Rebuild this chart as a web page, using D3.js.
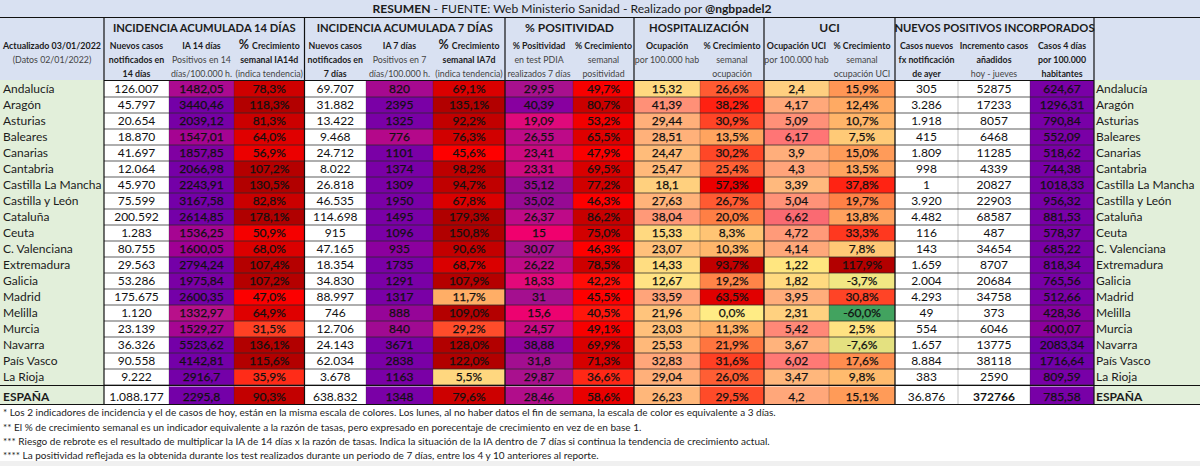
<!DOCTYPE html>
<html>
<head>
<meta charset="utf-8">
<title>Resumen</title>
<script src="https://cdn.jsdelivr.net/npm/d3@7"></script>
<style>
	html, body { margin: 0; padding: 0; background: #f0f0f0; overflow: hidden; }
	text { font-family: Lato, "Open Sans", sans-serif; fill: #1c1c1c; }
</style>
</head>
<body>
<div id="vis"></div>
<script>
// values, last entry is always ESPAÑA
const regions = ["Andalucía", "Aragón", "Asturias", "Baleares", "Canarias", "Cantabria", "Castilla La Mancha", "Castilla y León", "Cataluña", "Ceuta", "C. Valenciana", "Extremadura", "Galicia", "Madrid", "Melilla", "Murcia", "Navarra", "País Vasco", "La Rioja", "ESPAÑA"];
const casos14 = [126007, 45797, 20654, 18870, 41697, 12064, 45970, 75599, 200592, 1283, 80755, 29563, 53286, 175675, 1120, 23139, 36326, 90558, 9222, 1088177];
const ia14 = [1482.05, 3440.46, 2039.12, 1547.01, 1857.85, 2066.98, 2243.91, 3167.58, 2614.85, 1536.25, 1600.05, 2794.24, 1975.84, 2600.35, 1332.97, 1529.27, 5523.62, 4142.81, 2916.7, 2295.8];
const crec14 = [78.3, 118.3, 81.3, 64.0, 56.9, 107.2, 130.5, 82.8, 178.1, 50.9, 68.0, 107.4, 107.2, 47.0, 64.9, 31.5, 136.1, 115.6, 35.9, 90.3];
const casos7 = [69707, 31882, 13422, 9468, 24712, 8022, 26818, 46535, 114698, 915, 47165, 18354, 34830, 88997, 746, 12706, 24143, 62034, 3678, 638832];
const ia7 = [820, 2395, 1325, 776, 1101, 1374, 1309, 1950, 1495, 1096, 935, 1735, 1291, 1317, 888, 840, 3671, 2838, 1163, 1348];
const crec7 = [69.1, 135.1, 92.2, 76.3, 45.6, 98.2, 94.7, 67.8, 179.3, 150.8, 90.6, 68.7, 107.9, 11.7, 109.0, 29.2, 128.0, 122.0, 5.5, 79.6];
const positividad = [29.95, 40.39, 19.09, 26.55, 23.41, 23.31, 35.12, 35.02, 26.37, 15, 30.07, 26.22, 18.33, 31, 15.6, 24.57, 38.88, 31.8, 29.87, 28.46];
const crecPositividad = [49.7, 80.7, 53.2, 65.5, 47.9, 69.5, 77.2, 46.3, 86.2, 75.0, 46.3, 78.5, 42.2, 45.5, 40.5, 49.1, 69.9, 71.3, 36.6, 58.6];
const ocupacion = [15.32, 41.39, 29.44, 28.51, 24.47, 25.47, 18.1, 27.63, 38.04, 15.33, 23.07, 14.33, 12.67, 33.59, 21.96, 23.03, 25.53, 32.83, 29.04, 26.23];
const crecOcupacion = [26.6, 38.2, 30.9, 13.5, 30.2, 25.4, 57.3, 26.7, 20.0, 8.3, 10.3, 93.7, 19.2, 63.5, 0.0, 11.3, 21.9, 31.6, 26.0, 29.5];
const ocupacionUci = [2.4, 4.17, 5.09, 6.17, 3.9, 4.3, 3.39, 5.04, 6.62, 4.72, 4.14, 1.22, 1.82, 3.95, 2.31, 5.42, 3.67, 6.02, 3.47, 4.2];
const crecUci = [15.9, 12.4, 10.7, 7.5, 15.0, 13.5, 37.8, 19.7, 13.8, 33.3, 7.8, 117.9, -3.7, 30.8, -60.0, 2.5, -7.6, 17.6, 9.8, 15.1];
const casosAyer = [305, 3286, 1918, 415, 1809, 998, 1, 3920, 4482, 116, 143, 1659, 2004, 4293, 49, 554, 1657, 8884, 383, 36876];
const incremento = [52875, 17233, 8057, 6468, 11285, 4339, 20827, 22903, 68587, 487, 34654, 8707, 20684, 34758, 373, 6046, 13775, 38118, 2590, 372766];
const casos4 = [624.67, 1296.31, 790.84, 552.09, 518.62, 744.38, 1018.33, 956.32, 881.53, 578.37, 685.22, 818.34, 765.56, 512.66, 428.36, 400.07, 2083.34, 1716.64, 809.59, 785.58];

const groupLabels = ["INCIDENCIA ACUMULADA 14 DÍAS", "INCIDENCIA ACUMULADA 7 DÍAS", "% POSITIVIDAD", "HOSPITALIZACIÓN", "UCI", "NUEVOS POSITIVOS INCORPORADOS"];
const columnTitles = [
	["*Nuevos casos", "*notificados en", "*14 días"],
	["*IA 14 días", "Positivos en 14", "días/100.000 h."],
	["%*Crecimiento", "*semanal IA14d", "(indica tendencia)"],
	["*Nuevos casos", "*notificados en", "*7 días"],
	["*IA 7 días", "Positivos en 7", "días/100.000 h."],
	["%*Crecimiento", "*semanal IA7d", "(indica tendencia)"],
	["*% Positividad", "en test PDIA", "realizados 7 días"],
	["*% Crecimiento", "semanal", "positividad"],
	["*Ocupación", "por 100.000 hab", ""],
	["*% Crecimiento", "semanal", "ocupación"],
	["*Ocupación UCI", "por 100.000 hab", ""],
	["*% Crecimiento", "semanal", "ocupación UCI"],
	["*Casos nuevos", "*fx notificación", "*de ayer"],
	["*Incremento casos", "*añadidos", "hoy - jueves"],
	["*Casos 4 días", "*por 100.000", "*habitantes"],
];
const footnotes = [
	"* Los 2 indicadores de incidencia y el de casos de hoy, están en la misma escala de colores. Los lunes, al no haber datos el fin de semana, la escala de color es equivalente a 3 días.",
	"** El % de crecimiento semanal es un indicador equivalente a la razón de tasas, pero expresado en porecentaje de crecimiento en vez de en base 1.",
	"*** Riesgo de rebrote es el resultado de multiplicar la IA de 14 días x la razón de tasas. Indica la situación de la IA dentro de 7 días si continua la tendencia de crecimiento actual.",
	"**** La positividad reflejada es la obtenida durante los test realizados durante un periodo de 7 días, entre los 4 y 10 anteriores al reporte.",
];

const main = () => {
	draw();
};

const draw = () => {
	const VISUAL_W = 1200;
	const VISUAL_H = 466;
	const svg = d3.select("#vis").append("svg")
		.attr("width", VISUAL_W)
		.attr("height", VISUAL_H)
		.style("display", "block");

	const es = d3.formatLocale({ decimal: ",", thousands: ".", grouping: [3], currency: ["", ""] });
	const fmtMiles = es.format(",d");
	const fmtPct = (v) => v.toFixed(1).replace(".", ",") + "%";
	const fmtDec = (v) => String(v).replace(".", ",");
	const fmtInt = (v) => String(v);

	// colour scales, picked by eye from the excel conditional formats
	const growth = d3.scaleLinear()
		.domain([-60, -7.6, 0, 5.5, 11.7, 20, 30, 45, 64, 80, 110, 180])
		.range(["#42a35f", "#e4e180", "#ffec85", "#ffd77f", "#ffae66", "#ff7f45", "#ff4828", "#ff0000", "#e00000", "#cc0000", "#b30000", "#b00000"])
		.clamp(true);
	const incid = d3.scaleLinear()
		.domain([1330, 1480, 1600, 1860, 2100])
		.range(["#b8108a", "#ab0a90", "#a00094", "#8000a2", "#7400a8"])
		.clamp(true);
	const incid7 = d3.scaleLinear()
		.domain([776, 840, 935, 1100])
		.range(["#b4088a", "#a00a92", "#8c009e", "#7a00a6"])
		.clamp(true);
	const incid4 = d3.scaleLinear()
		.domain([400, 510, 2000])
		.range(["#8a009c", "#7a00a6", "#7000aa"])
		.clamp(true);
	const posit = d3.scaleLinear()
		.domain([15, 18.3, 23.3, 26.5, 30, 35, 40.4])
		.range(["#f0006e", "#e2097a", "#cc0a80", "#bd0a88", "#a8108e", "#960a94", "#8800a0"]);
	const hosp = d3.scaleLinear()
		.domain([12.67, 15.3, 25, 33, 41.4])
		.range(["#ffe384", "#ffd980", "#ffba7a", "#ffa67a", "#ff9077"]);
	const uci = d3.scaleLinear()
		.domain([1.22, 2.4, 4.2, 5.1, 6.17, 6.62])
		.range(["#ffe680", "#ffcf80", "#ffa77a", "#ff9078", "#ff7575", "#fa6a72"]);
	const white = () => "#ffffff";

	const columns = [
		{ values: casos14, fmt: fmtMiles, color: white },
		{ values: ia14, fmt: fmtDec, color: incid },
		{ values: crec14, fmt: fmtPct, color: growth },
		{ values: casos7, fmt: fmtMiles, color: white },
		{ values: ia7, fmt: fmtInt, color: incid7 },
		{ values: crec7, fmt: fmtPct, color: growth },
		{ values: positividad, fmt: fmtDec, color: posit },
		{ values: crecPositividad, fmt: fmtPct, color: growth },
		{ values: ocupacion, fmt: fmtDec, color: hosp },
		{ values: crecOcupacion, fmt: fmtPct, color: growth },
		{ values: ocupacionUci, fmt: fmtDec, color: uci },
		{ values: crecUci, fmt: fmtPct, color: growth },
		{ values: casosAyer, fmt: fmtMiles, color: white },
		{ values: incremento, fmt: fmtInt, color: white },
		{ values: casos4, fmt: fmtDec, color: incid4 },
	];

	// layout of the sheet
	const colEdges = [104, 169, 234, 304.5, 366, 433, 505, 573, 634, 700, 764, 829, 895, 958, 1030, 1094];
	const groupSpans = [[0, 3], [3, 6], [6, 8], [8, 10], [10, 12], [12, 15]];
	const provinces = regions.slice(0, -1);
	const rowY = d3.scaleBand().domain(provinces).range([81, 385]);
	const totalTop = 386.5;
	const totalH = 17.5;
	const yOf = (i) => (i < provinces.length ? rowY(regions[i]) : totalTop);
	const hOf = (i) => (i < provinces.length ? rowY.bandwidth() : totalH);
	const textY = (i) => (i < provinces.length ? yOf(i) + hOf(i) / 2 : yOf(i) + hOf(i) / 2 + 1);

	// backgrounds
	svg.append("rect").attr("width", VISUAL_W).attr("height", 461).attr("fill", "#ffffff");
	svg.append("rect").attr("width", VISUAL_W).attr("height", 80).attr("fill", "#d9e1f2");
	svg.append("rect").attr("y", 80).attr("width", 104).attr("height", 324).attr("fill", "#e2efda");
	svg.append("rect").attr("x", 1094).attr("y", 80).attr("width", 106).attr("height", 324).attr("fill", "#e2efda");

	// title
	const title = svg.append("text").attr("x", 572).attr("y", 9).attr("dy", "0.36em")
		.attr("text-anchor", "middle").attr("font-size", 12.1);
	title.append("tspan").attr("font-weight", 700).text("RESUMEN");
	title.append("tspan").text(" - FUENTE: Web Ministerio Sanidad  - Realizado por ");
	title.append("tspan").attr("font-weight", 700).text("@ngbpadel2");

	// cells
	const cols = svg.append("g").selectAll("g").data(columns).join("g");
	cols.each(function(col, c) {
		const g = d3.select(this);
		const x0 = colEdges[c];
		const x1 = colEdges[c + 1];
		g.selectAll("rect").data(col.values).join("rect")
			.attr("x", x0)
			.attr("y", (_d, i) => yOf(i))
			.attr("width", x1 - x0)
			.attr("height", (_d, i) => hOf(i))
			.attr("fill", (d) => col.color(d));
		g.selectAll("text").data(col.values).join("text")
			.attr("x", (x0 + x1) / 2)
			.attr("y", (_d, i) => textY(i))
			.attr("dy", "0.36em")
			.attr("text-anchor", "middle")
			.attr("font-size", 12)
			.attr("font-weight", (d) => (d === 372766 ? 700 : 400))
			.attr("stroke", col.color === white ? "none" : "#111111")
			.attr("stroke-width", 0.25)
			.style("fill", "#111111")
			.text((d) => col.fmt(d));
	});

	// thin rules between rows and cells
	const rules = svg.append("g").attr("stroke", "rgba(40,40,40,0.5)").attr("stroke-width", 1.3);
	provinces.forEach((p) => {
		rules.append("line")
			.attr("x1", 104).attr("x2", 1094)
			.attr("y1", rowY(p) + rowY.bandwidth())
			.attr("y2", rowY(p) + rowY.bandwidth());
	});
	colEdges.slice(1, -1).forEach((x) => {
		rules.append("line").attr("x1", x).attr("x2", x).attr("y1", 81).attr("y2", 404)
			.attr("stroke", "rgba(40,40,40,0.28)")
			.attr("stroke-width", 1);
	});

	// row labels on both sides
	[3, 1096].forEach((x) => {
		svg.append("g").selectAll("text").data(regions).join("text")
			.attr("x", x)
			.attr("y", (_d, i) => textY(i))
			.attr("dy", "0.36em")
			.attr("font-size", 12)
			.attr("font-weight", (d) => (d === "ESPAÑA" ? 700 : 400))
			.text((d) => d);
	});

	// group headers, the long ones get squeezed a bit to stay inside their span
	svg.append("g").selectAll("text").data(groupLabels).join("text")
		.attr("x", (_d, i) => (colEdges[groupSpans[i][0]] + colEdges[groupSpans[i][1]]) / 2)
		.attr("y", 28)
		.attr("dy", "0.36em")
		.attr("text-anchor", "middle")
		.attr("font-size", 12)
		.attr("font-weight", 700)
		.text((d) => d)
		.each(function(d) {
			if (d.length > 14) {
				d3.select(this)
					.attr("lengthAdjust", "spacingAndGlyphs")
					.attr("textLength", this.getComputedTextLength() * 0.935);
			}
		});

	// column sub headers, "*" marks a bold line
	const subHeadY = [46, 60, 74];
	columnTitles.forEach((lines, c) => {
		const cx = (colEdges[c] + colEdges[c + 1]) / 2;
		lines.forEach((line, l) => {
			const t = svg.append("text")
				.attr("x", cx)
				.attr("y", subHeadY[l])
				.attr("dy", "0.36em")
				.attr("text-anchor", "middle")
				.attr("font-size", 8.8);
			if (line.startsWith("%*")) {
				t.attr("font-weight", 700);
				t.append("tspan").attr("font-size", 12.5).text("% ");
				t.append("tspan").text(line.slice(2));
			} else if (line.startsWith("*")) {
				t.attr("font-weight", 700).text(line.slice(1));
			} else {
				t.style("fill", "#444444").text(line);
			}
		});
	});
	svg.append("text").attr("x", 52).attr("y", 46).attr("dy", "0.36em").attr("text-anchor", "middle")
		.attr("font-size", 8.9).attr("font-weight", 700).text("Actualizado 03/01/2022");
	svg.append("text").attr("x", 52).attr("y", 59.5).attr("dy", "0.36em").attr("text-anchor", "middle")
		.attr("font-size", 8.8).style("fill", "#444444").text("(Datos 02/01/2022)");

	// heavy borders
	const heavy = svg.append("g").attr("stroke", "#111111").attr("stroke-width", 1.2);
	[[0, VISUAL_W, 17.5], [104, 1094, 80.5], [0, VISUAL_W, 385.5], [0, VISUAL_W, 404.5]].forEach(([x1, x2, y]) => {
		heavy.append("line").attr("x1", x1).attr("x2", x2).attr("y1", y).attr("y2", y);
	});
	[0, 3, 6, 8, 10, 12, 15].forEach((c) => {
		heavy.append("line").attr("x1", colEdges[c]).attr("x2", colEdges[c]).attr("y1", 18).attr("y2", 404);
	});

	// footnotes
	svg.append("g").selectAll("text").data(footnotes).join("text")
		.attr("x", 3)
		.attr("y", (_d, i) => 412.5 + i * 14.4)
		.attr("dy", "0.36em")
		.attr("font-size", 10)
		.text((d) => d);
};

main();
</script>
</body>
</html>
